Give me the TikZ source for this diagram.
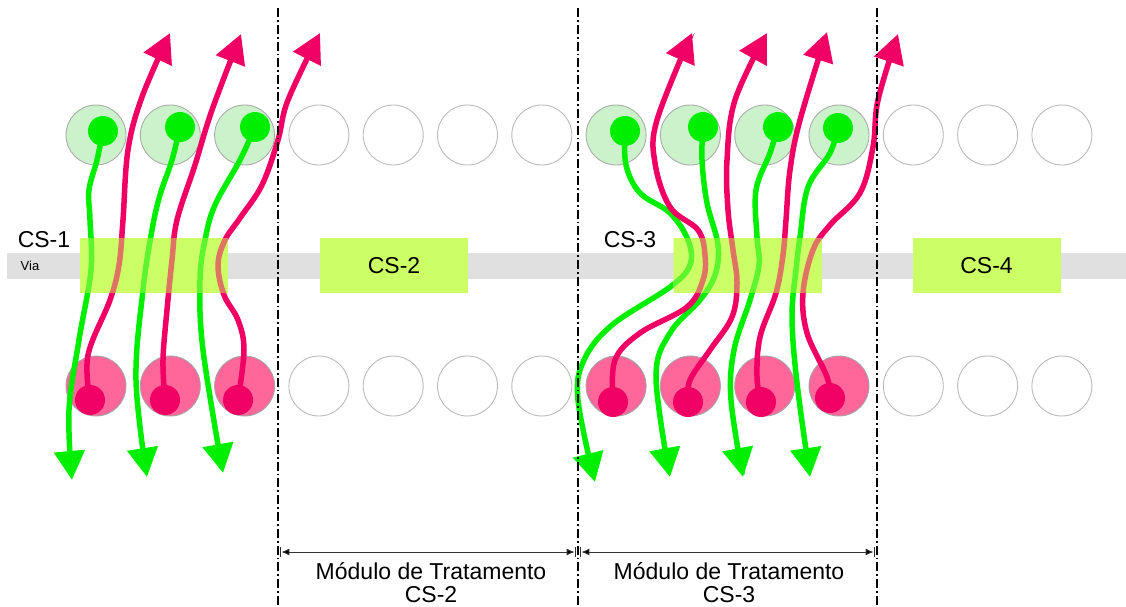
\documentclass[tikz,border=0pt]{standalone}
\usepackage{fontspec}
\setmainfont{Liberation Sans}
\usetikzlibrary{arrows.meta}
\definecolor{pinkline}{RGB}{240,0,100}
\definecolor{greenline}{RGB}{0,238,0}
\definecolor{pinkfill}{RGB}{255,102,153}
\definecolor{greenfill}{RGB}{204,242,204}
\definecolor{boxfill}{RGB}{204,255,102}
\definecolor{roadfill}{RGB}{224,224,224}
\tikzset{
  wcirc/.style={circle,draw=black!27,line width=0.9pt,fill=white,minimum size=60pt,inner sep=0pt},
  gcirc/.style={wcirc,fill=greenfill,draw=black!33},
  pcirc/.style={wcirc,fill=pinkfill,draw=black!35},
  gdot/.style={circle,fill=greenline,minimum size=30pt,inner sep=0pt},
  pdot/.style={circle,fill=pinkline,minimum size=30pt,inner sep=0pt},
  csbox/.style={fill=boxfill,draw=none,minimum width=148pt,minimum height=55pt,inner sep=0pt,font=\fontsize{23}{25}\selectfont},
  pinkarrow/.style={draw=pinkline,line width=5.5pt,-{Triangle[length=29pt,width=30pt]},fill=none},
  greenarrow/.style={draw=greenline,line width=5.5pt,-{Triangle[length=29pt,width=30pt]},fill=none},
  dashdot/.style={line width=1.6pt,dash pattern=on 9pt off 3pt on 1.8pt off 3pt},
  dimline/.style={line width=0.9pt,draw=black!80,{Bar[width=10pt,line width=1.4pt].Latex[length=8pt,width=7pt,fill=black]}-{Latex[length=8pt,width=7pt,fill=black].Bar[width=10pt,line width=1.4pt]}},
  lbl/.style={font=\fontsize{23}{25}\selectfont,inner sep=0pt},
  sm/.style={smooth,tension=0.6}
}
\begin{document}
\begin{tikzpicture}[x=1pt,y=-1pt]
\useasboundingbox (0,0) rectangle (1126,606);
% road
\fill[roadfill] (7,253) rectangle (1126,279);
\node[font=\fontsize{13}{14}\selectfont] (via) at (30,266) {Via};
% boxes
\node[csbox] (cs1) at (154,265.5) {};
\node[csbox] (cs2) at (394,265.5) {CS-2};
\node[csbox] (cs3) at (747.5,265.5) {};
\node[csbox] (cs4) at (986.5,265.5) {CS-4};
% circles
\foreach \i/\s in {1/gcirc,2/gcirc,3/gcirc,4/wcirc,5/wcirc,6/wcirc,7/wcirc,8/gcirc,9/gcirc,10/gcirc,11/gcirc,12/wcirc,13/wcirc,14/wcirc}{
  \pgfmathsetmacro\xx{96+74.3*(\i-1)}
  \node[\s] (t\i) at (\xx,135) {};
}
\foreach \i/\s in {1/pcirc,2/pcirc,3/pcirc,4/wcirc,5/wcirc,6/wcirc,7/wcirc,8/pcirc,9/pcirc,10/pcirc,11/pcirc,12/wcirc,13/wcirc,14/wcirc}{
  \pgfmathsetmacro\xx{96+74.3*(\i-1)}
  \node[\s] (b\i) at (\xx,386) {};
}
% dots (coordinates for line starts)
\coordinate (g1) at (103,131); \coordinate (g2) at (180,127); \coordinate (g3) at (255,127);
\coordinate (g4) at (625,131); \coordinate (g5) at (703,127); \coordinate (g6) at (778,127); \coordinate (g7) at (838,128);
\coordinate (p1) at (90,400); \coordinate (p2) at (165,400); \coordinate (p3) at (238,400);
\coordinate (p4) at (613,402); \coordinate (p5) at (688,402); \coordinate (p6) at (761,402); \coordinate (p7) at (830,398);
% end points
\coordinate (e1) at (170,33); \coordinate (e2) at (241,34); \coordinate (e3) at (320,33);
\coordinate (e4) at (692,33); \coordinate (e5) at (767,33); \coordinate (e6) at (827,32); \coordinate (e7) at (898,34);
\coordinate (f1) at (72,480); \coordinate (f2) at (147,477); \coordinate (f3) at (223,473);
\coordinate (f4) at (595,482); \coordinate (f5) at (670,477); \coordinate (f6) at (743,477); \coordinate (f7) at (810,477);
% pink arrows CS-1
\draw[pinkarrow] plot[sm] coordinates {(p1) (88,355) (110,300) (119,265) (123,220) (128,150) (142,97) (e1)};
\draw[pinkarrow] plot[sm] coordinates {(p2) (163,360) (167,310) (172,260) (177,220) (195,165) (212,110) (e2)};
\draw[pinkarrow] plot[sm] coordinates {(p3) (244,350) (238,320) (224,295) (218,265) (225,240) (240,218) (262,185) (278,140) (288,100) (e3)};
% green arrows CS-1
\draw[greenarrow] plot[sm] coordinates {(g1) (97,160) (89,190) (90,220) (91,270) (79,340) (69,410) (f1)};
\draw[greenarrow] plot[sm] coordinates {(g2) (172,160) (160,195) (152,230) (143,290) (136,380) (f2)};
\draw[greenarrow] plot[sm] coordinates {(g3) (240,160) (215,205) (205,240) (200,280) (203,350) (f3)};
% green arrows CS-3
\draw[greenarrow] plot[sm] coordinates {(g4) (626,165) (640,193) (670,213) (688,240) (690,265) (670,287) (612,325) (584,360) (578,400) (f4)};
\draw[greenarrow] plot[sm] coordinates {(g5) (702,160) (707,203) (718,245) (715,275) (700,300) (670,333) (656,377) (f5)};
\draw[greenarrow] plot[sm] coordinates {(g6) (770,153) (756,190) (757,237) (759,265) (750,300) (734,350) (731,400) (f6)};
\draw[greenarrow] plot[sm] coordinates {(g7) (830,153) (808,187) (800,237) (796,270) (792,317) (797,383) (f7)};
% pink arrows CS-3
\draw[pinkarrow] plot[sm] coordinates {(p4) (615,360) (640,333) (687,307) (703,280) (705,255) (698,230) (670,207) (655,163) (657,120) (e4)};
\draw[pinkarrow] plot[sm] coordinates {(p5) (690,380) (710,350) (732,317) (737,283) (733,250) (728,210) (727,160) (735,100) (e5)};
\draw[pinkarrow] plot[sm] coordinates {(p6) (757,377) (760,337) (776,293) (783,255) (786,220) (790,170) (800,120) (e6)};
\draw[pinkarrow] plot[sm] coordinates {(p7) (827,377) (807,333) (803,293) (813,250) (830,225) (860,193) (873,147) (878,100) (e7)};
% dots
\foreach \n in {g1,g2,g3,g4,g5,g6,g7}{ \node[gdot] (d\n) at (\n) {}; }
\foreach \n in {p1,p2,p3,p4,p5,p6,p7}{ \node[pdot] (d\n) at (\n) {}; }
% box overlay (lines faded inside boxes)
\fill[boxfill,fill opacity=0.45] (cs1.north west) rectangle (cs1.south east);
\fill[boxfill,fill opacity=0.45] (cs3.north west) rectangle (cs3.south east);
% labels
\node[lbl] (l1) at (44,240) {CS-1};
\node[lbl] (l3) at (630,240) {CS-3};
% dash-dot separators
\coordinate (s1t) at (278,8); \coordinate (s1b) at (278,606);
\coordinate (s2t) at (578,8); \coordinate (s2b) at (578,606);
\coordinate (s3t) at (877,8); \coordinate (s3b) at (877,606);
\draw[dashdot] (s1t) -- (s1b);
\draw[dashdot] (s2t) -- (s2b);
\draw[dashdot] (s3t) -- (s3b);
% dimensions
\coordinate (m1) at (280,552); \coordinate (m2) at (576,552);
\coordinate (m3) at (580,552); \coordinate (m4) at (875,552);
\draw[dimline] (m1) -- (m2);
\draw[dimline] (m3) -- (m4);
\node[lbl,align=center,font=\fontsize{23}{23}\selectfont] (mod2) at (431,583) {Módulo de Tratamento\\CS-2};
\node[lbl,align=center,font=\fontsize{23}{23}\selectfont] (mod3) at (729,583) {Módulo de Tratamento\\CS-3};
\end{tikzpicture}
\end{document}
